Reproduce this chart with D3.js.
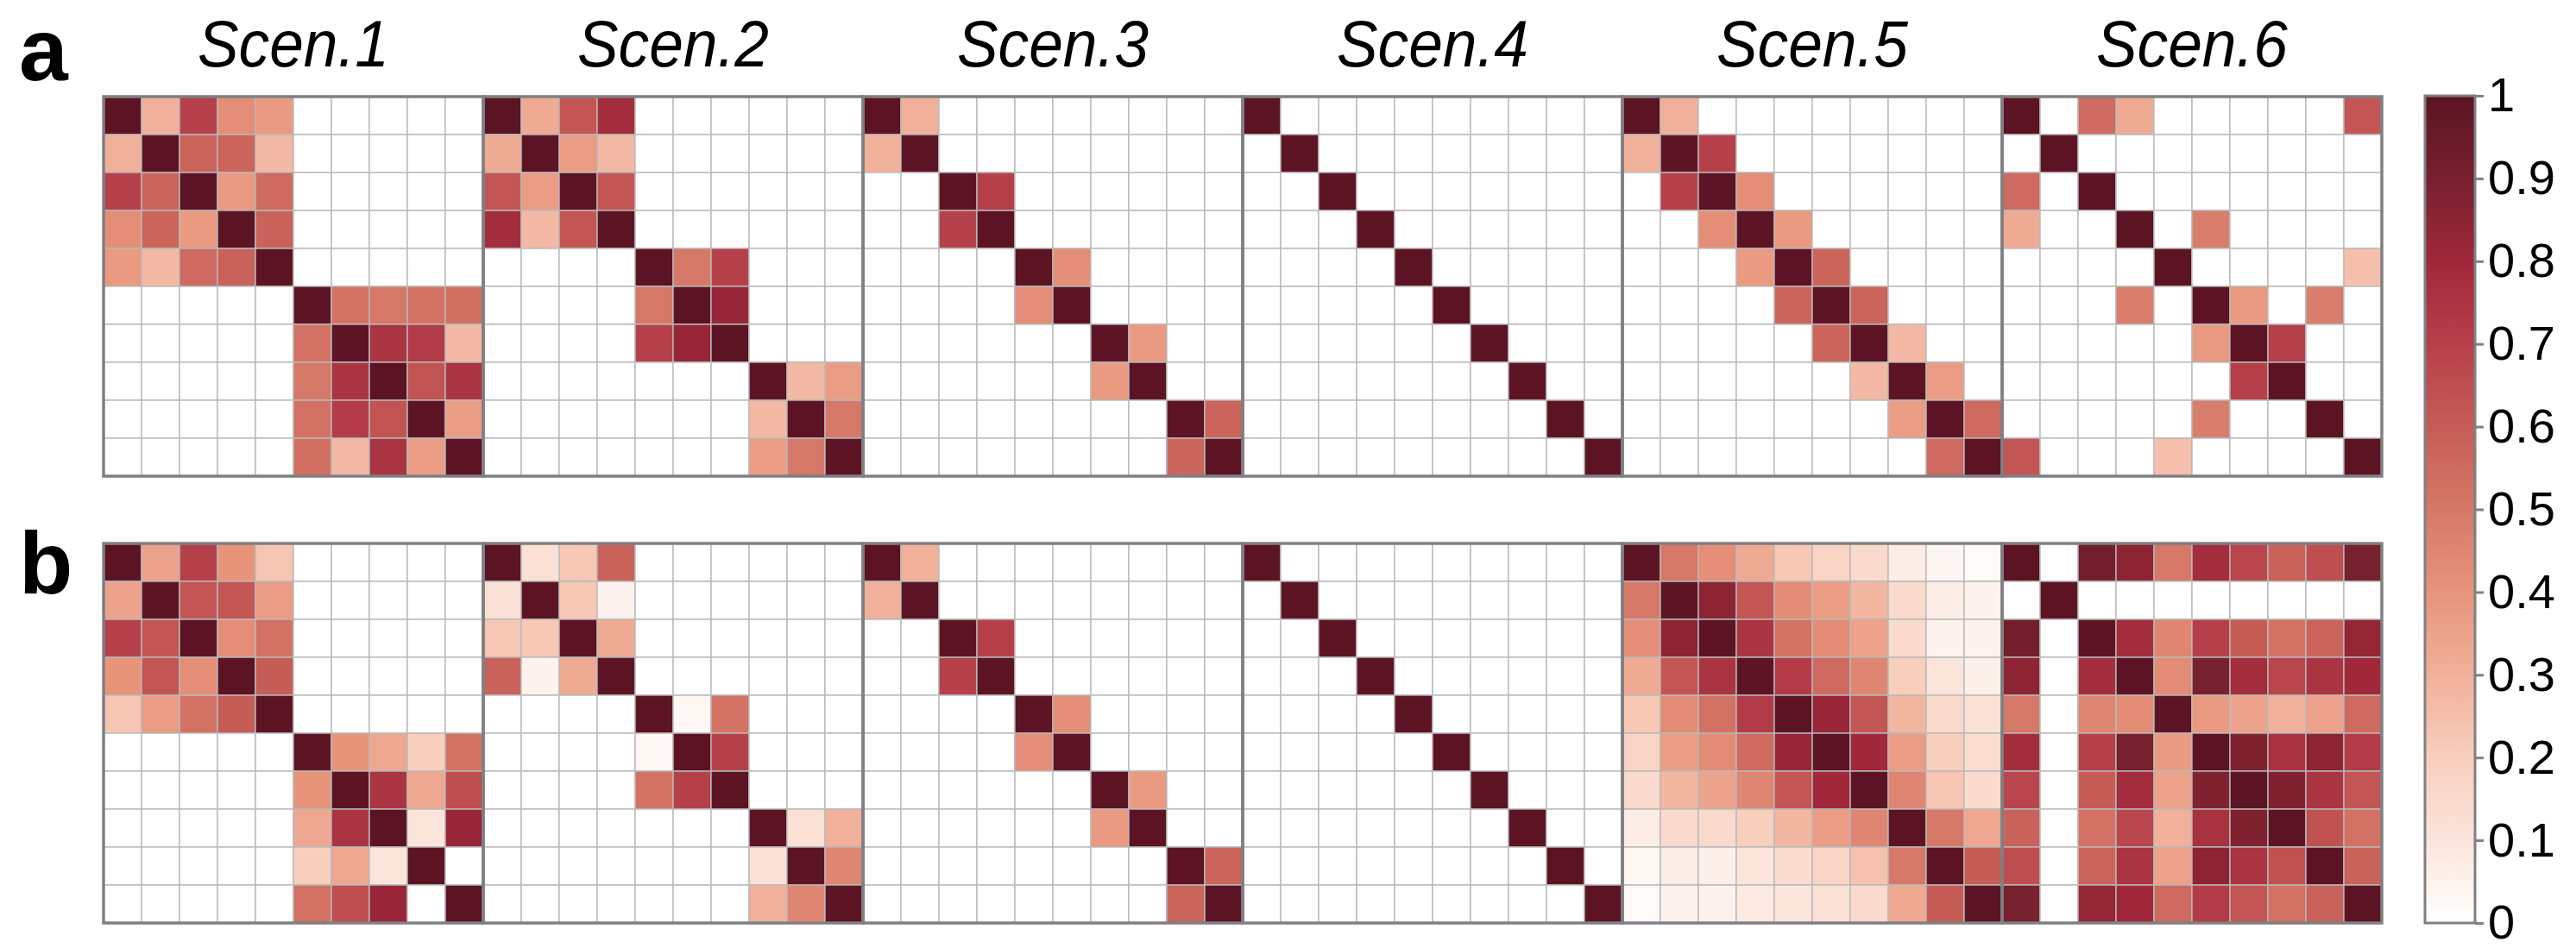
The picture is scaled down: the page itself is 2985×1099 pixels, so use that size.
<!DOCTYPE html>
<html>
<head>
<meta charset="utf-8">
<script src="https://cdn.jsdelivr.net/npm/d3@7"></script>
<style>
  body { margin: 0; background: #fff; }
  svg { display: block; }
</style>
</head>
<body>
<div id="chart"></div>
<script>
// ---- data: correlation matrices ----
var titles = ["Scen.1", "Scen.2", "Scen.3", "Scen.4", "Scen.5", "Scen.6"];
var rowLabels = ["a", "b"];

var scen1a = [
  [1, .30, .70, .42, .38, 0, 0, 0, 0, 0],
  [.30, 1, .57, .57, .27, 0, 0, 0, 0, 0],
  [.70, .57, 1, .38, .55, 0, 0, 0, 0, 0],
  [.42, .57, .38, 1, .58, 0, 0, 0, 0, 0],
  [.38, .27, .55, .58, 1, 0, 0, 0, 0, 0],
  [0, 0, 0, 0, 0, 1, .52, .50, .52, .53],
  [0, 0, 0, 0, 0, .52, 1, .75, .72, .27],
  [0, 0, 0, 0, 0, .50, .75, 1, .63, .75],
  [0, 0, 0, 0, 0, .52, .72, .63, 1, .37],
  [0, 0, 0, 0, 0, .53, .27, .75, .37, 1]
];
var scen2a = [
  [1, .32, .62, .78, 0, 0, 0, 0, 0, 0],
  [.32, 1, .37, .27, 0, 0, 0, 0, 0, 0],
  [.62, .37, 1, .62, 0, 0, 0, 0, 0, 0],
  [.78, .27, .62, 1, 0, 0, 0, 0, 0, 0],
  [0, 0, 0, 0, 1, .50, .70, 0, 0, 0],
  [0, 0, 0, 0, .50, 1, .82, 0, 0, 0],
  [0, 0, 0, 0, .70, .82, 1, 0, 0, 0],
  [0, 0, 0, 0, 0, 0, 0, 1, .27, .37],
  [0, 0, 0, 0, 0, 0, 0, .27, 1, .50],
  [0, 0, 0, 0, 0, 0, 0, .37, .50, 1]
];
var scen3a = [
  [1, .30, 0, 0, 0, 0, 0, 0, 0, 0],
  [.30, 1, 0, 0, 0, 0, 0, 0, 0, 0],
  [0, 0, 1, .70, 0, 0, 0, 0, 0, 0],
  [0, 0, .70, 1, 0, 0, 0, 0, 0, 0],
  [0, 0, 0, 0, 1, .42, 0, 0, 0, 0],
  [0, 0, 0, 0, .42, 1, 0, 0, 0, 0],
  [0, 0, 0, 0, 0, 0, 1, .38, 0, 0],
  [0, 0, 0, 0, 0, 0, .38, 1, 0, 0],
  [0, 0, 0, 0, 0, 0, 0, 0, 1, .57],
  [0, 0, 0, 0, 0, 0, 0, 0, .57, 1]
];
var scen4a = [
  [1, 0, 0, 0, 0, 0, 0, 0, 0, 0],
  [0, 1, 0, 0, 0, 0, 0, 0, 0, 0],
  [0, 0, 1, 0, 0, 0, 0, 0, 0, 0],
  [0, 0, 0, 1, 0, 0, 0, 0, 0, 0],
  [0, 0, 0, 0, 1, 0, 0, 0, 0, 0],
  [0, 0, 0, 0, 0, 1, 0, 0, 0, 0],
  [0, 0, 0, 0, 0, 0, 1, 0, 0, 0],
  [0, 0, 0, 0, 0, 0, 0, 1, 0, 0],
  [0, 0, 0, 0, 0, 0, 0, 0, 1, 0],
  [0, 0, 0, 0, 0, 0, 0, 0, 0, 1]
];
var scen5a = [
  [1, .30, 0, 0, 0, 0, 0, 0, 0, 0],
  [.30, 1, .70, 0, 0, 0, 0, 0, 0, 0],
  [0, .70, 1, .42, 0, 0, 0, 0, 0, 0],
  [0, 0, .42, 1, .38, 0, 0, 0, 0, 0],
  [0, 0, 0, .38, 1, .57, 0, 0, 0, 0],
  [0, 0, 0, 0, .57, 1, .57, 0, 0, 0],
  [0, 0, 0, 0, 0, .57, 1, .27, 0, 0],
  [0, 0, 0, 0, 0, 0, .27, 1, .37, 0],
  [0, 0, 0, 0, 0, 0, 0, .37, 1, .55],
  [0, 0, 0, 0, 0, 0, 0, 0, .55, 1]
];
var scen6a = [
  [1, 0, .55, .32, 0, 0, 0, 0, 0, .62],
  [0, 1, 0, 0, 0, 0, 0, 0, 0, 0],
  [.55, 0, 1, 0, 0, 0, 0, 0, 0, 0],
  [.32, 0, 0, 1, 0, .48, 0, 0, 0, 0],
  [0, 0, 0, 0, 1, 0, 0, 0, 0, .25],
  [0, 0, 0, .48, 0, 1, .38, 0, .48, 0],
  [0, 0, 0, 0, 0, .38, 1, .70, 0, 0],
  [0, 0, 0, 0, 0, 0, .70, 1, 0, 0],
  [0, 0, 0, 0, 0, .48, 0, 0, 1, 0],
  [.62, 0, 0, 0, .25, 0, 0, 0, 0, 1]
];

var scen1b = [
  [1, .35, .70, .40, .23, 0, 0, 0, 0, 0],
  [.35, 1, .62, .62, .37, 0, 0, 0, 0, 0],
  [.70, .62, 1, .42, .52, 0, 0, 0, 0, 0],
  [.40, .62, .42, 1, .60, 0, 0, 0, 0, 0],
  [.23, .37, .52, .60, 1, 0, 0, 0, 0, 0],
  [0, 0, 0, 0, 0, 1, .40, .33, .20, .52],
  [0, 0, 0, 0, 0, .40, 1, .75, .33, .65],
  [0, 0, 0, 0, 0, .33, .75, 1, .10, .82],
  [0, 0, 0, 0, 0, .20, .33, .10, 1, 0],
  [0, 0, 0, 0, 0, .52, .65, .82, 0, 1]
];
var scen2b = [
  [1, .12, .22, .58, 0, 0, 0, 0, 0, 0],
  [.12, 1, .22, .05, 0, 0, 0, 0, 0, 0],
  [.22, .22, 1, .32, 0, 0, 0, 0, 0, 0],
  [.58, .05, .32, 1, 0, 0, 0, 0, 0, 0],
  [0, 0, 0, 0, 1, .03, .52, 0, 0, 0],
  [0, 0, 0, 0, .03, 1, .70, 0, 0, 0],
  [0, 0, 0, 0, .52, .70, 1, 0, 0, 0],
  [0, 0, 0, 0, 0, 0, 0, 1, .12, .30],
  [0, 0, 0, 0, 0, 0, 0, .12, 1, .45],
  [0, 0, 0, 0, 0, 0, 0, .30, .45, 1]
];
var scen3b = [
  [1, .30, 0, 0, 0, 0, 0, 0, 0, 0],
  [.30, 1, 0, 0, 0, 0, 0, 0, 0, 0],
  [0, 0, 1, .70, 0, 0, 0, 0, 0, 0],
  [0, 0, .70, 1, 0, 0, 0, 0, 0, 0],
  [0, 0, 0, 0, 1, .42, 0, 0, 0, 0],
  [0, 0, 0, 0, .42, 1, 0, 0, 0, 0],
  [0, 0, 0, 0, 0, 0, 1, .38, 0, 0],
  [0, 0, 0, 0, 0, 0, .38, 1, 0, 0],
  [0, 0, 0, 0, 0, 0, 0, 0, 1, .57],
  [0, 0, 0, 0, 0, 0, 0, 0, .57, 1]
];
var scen4b = [
  [1, 0, 0, 0, 0, 0, 0, 0, 0, 0],
  [0, 1, 0, 0, 0, 0, 0, 0, 0, 0],
  [0, 0, 1, 0, 0, 0, 0, 0, 0, 0],
  [0, 0, 0, 1, 0, 0, 0, 0, 0, 0],
  [0, 0, 0, 0, 1, 0, 0, 0, 0, 0],
  [0, 0, 0, 0, 0, 1, 0, 0, 0, 0],
  [0, 0, 0, 0, 0, 0, 1, 0, 0, 0],
  [0, 0, 0, 0, 0, 0, 0, 1, 0, 0],
  [0, 0, 0, 0, 0, 0, 0, 0, 1, 0],
  [0, 0, 0, 0, 0, 0, 0, 0, 0, 1]
];
var scen5b = [
  [1, .50, .42, .32, .22, .18, .15, .07, .04, .02],
  [.50, 1, .85, .62, .43, .37, .28, .15, .07, .05],
  [.42, .85, 1, .75, .52, .43, .35, .15, .05, .05],
  [.32, .62, .75, 1, .72, .55, .45, .20, .10, .06],
  [.22, .43, .52, .72, 1, .82, .62, .28, .15, .12],
  [.18, .37, .43, .55, .82, 1, .80, .37, .20, .13],
  [.15, .28, .35, .45, .62, .80, 1, .45, .23, .15],
  [.07, .15, .15, .20, .28, .37, .45, 1, .50, .33],
  [.03, .07, .06, .10, .14, .18, .24, .50, 1, .60],
  [.02, .05, .05, .08, .10, .12, .15, .33, .60, 1]
];
var scen6b = [
  [1, 0, .92, .85, .50, .78, .68, .58, .65, .90],
  [0, 1, 0, 0, 0, 0, 0, 0, 0, 0],
  [.92, 0, 1, .78, .45, .70, .60, .52, .57, .83],
  [.85, 0, .78, 1, .43, .90, .78, .68, .75, .80],
  [.50, 0, .45, .43, 1, .38, .35, .30, .35, .55],
  [.78, 0, .70, .90, .38, 1, .88, .76, .85, .72],
  [.68, 0, .60, .78, .35, .88, 1, .88, .75, .62],
  [.58, 0, .52, .68, .30, .76, .88, 1, .64, .52],
  [.65, 0, .57, .75, .35, .85, .75, .64, 1, .58],
  [.90, 0, .83, .80, .55, .72, .62, .52, .58, 1]
];

var rowsData = [
  [scen1a, scen2a, scen3a, scen4a, scen5a, scen6a],
  [scen1b, scen2b, scen3b, scen4b, scen5b, scen6b]
];

// colour map (value -> colour), as on the colour bar
var colorValues = [0, 0.1, 0.2, 0.3, 0.4, 0.5, 0.6, 0.7, 0.8, 0.9, 1];
var colorRange = ["#ffffff", "#fbe5db", "#f8cebd", "#f1b09a", "#e7947b", "#d67868",
                  "#c65c56", "#b6404a", "#a0283a", "#77202e", "#5c1424"];
var barTicks = [0, 0.1, 0.2, 0.3, 0.4, 0.5, 0.6, 0.7, 0.8, 0.9, 1];

// ---- layout ----
var width = 2985, height = 1099;
var panelSize = 440,
    left = 120,
    rowTops = [112, 630];

var svg = d3.select("#chart")
  .append("svg")
    .attr("width", width)
    .attr("height", height);

var color = d3.scaleLinear()
  .domain(colorValues)
  .range(colorRange);

var cellLayer = svg.append("g");
var borderLayer = svg.append("g");

rowsData.forEach(function(mats, r) {
  mats.forEach(function(m, c) {
    var x0 = left + c * panelSize, y0 = rowTops[r];
    var idx = m.map(function(d, i) { return i; });
    var x = d3.scaleBand().domain(idx).range([x0, x0 + panelSize]);
    var y = d3.scaleBand().domain(idx).range([y0, y0 + panelSize]);

    var cells = [];
    m.forEach(function(row, i) {
      row.forEach(function(v, j) { cells.push({ i: i, j: j, v: v }); });
    });

    cellLayer.append("g")
      .selectAll("rect")
      .data(cells)
      .enter()
      .append("rect")
        .attr("x", function(d) { return x(d.j); })
        .attr("y", function(d) { return y(d.i); })
        .attr("width", x.bandwidth())
        .attr("height", y.bandwidth())
        .attr("fill", function(d) { return color(d.v); })
        .attr("stroke", "#b9b9b9")
        .attr("stroke-width", 1.4);

    borderLayer.append("rect")
      .attr("x", x0)
      .attr("y", y0)
      .attr("width", panelSize)
      .attr("height", panelSize)
      .attr("fill", "none")
      .attr("stroke", "#808084")
      .attr("stroke-width", 3.5);
  });
});

// column titles
svg.selectAll(".title")
  .data(titles)
  .enter()
  .append("text")
    .attr("class", "title")
    .attr("x", function(d, i) { return left + i * panelSize + panelSize / 2; })
    .attr("y", 77)
    .attr("text-anchor", "middle")
    .attr("textLength", 222)
    .attr("lengthAdjust", "spacingAndGlyphs")
    .style("font-family", "'Liberation Sans', Arial, sans-serif")
    .style("font-style", "italic")
    .style("font-size", "76px")
    .text(function(d) { return d; });

// row labels
svg.selectAll(".rowlab")
  .data(rowLabels)
  .enter()
  .append("text")
    .attr("class", "rowlab")
    .attr("x", 22)
    .attr("y", function(d, i) { return [93, 688][i]; })
    .style("font-family", "'Liberation Sans', Arial, sans-serif")
    .style("font-weight", "bold")
    .style("font-size", "102px")
    .text(function(d) { return d; });

// colour bar
var barX = 2810, barW = 58, barTop = 111, barBottom = 1070;
var yBar = d3.scaleLinear().domain([0, 1]).range([barBottom, barTop]);

var grad = svg.append("defs").append("linearGradient")
  .attr("id", "cbar")
  .attr("x1", 0).attr("y1", 1)
  .attr("x2", 0).attr("y2", 0);
grad.selectAll("stop")
  .data(colorValues)
  .enter()
  .append("stop")
    .attr("offset", function(d) { return d; })
    .attr("stop-color", function(d, i) { return colorRange[i]; });

svg.append("rect")
  .attr("x", barX)
  .attr("y", barTop)
  .attr("width", barW)
  .attr("height", barBottom - barTop)
  .attr("fill", "url(#cbar)")
  .attr("stroke", "#808084")
  .attr("stroke-width", 3);

var barAxis = svg.append("g")
  .attr("transform", "translate(" + (barX + barW) + ",0)")
  .call(d3.axisRight(yBar)
    .tickValues(barTicks)
    .tickSize(10)
    .tickFormat(d3.format("~g")));

barAxis.select(".domain").remove();
barAxis.selectAll(".tick line")
  .attr("stroke", "#808084")
  .attr("stroke-width", 3);
barAxis.selectAll(".tick text")
  .attr("x", 15)
  .attr("fill", "#000")
  .style("font-family", "'Liberation Sans', Arial, sans-serif")
  .style("font-size", "56px");
</script>
</body>
</html>
